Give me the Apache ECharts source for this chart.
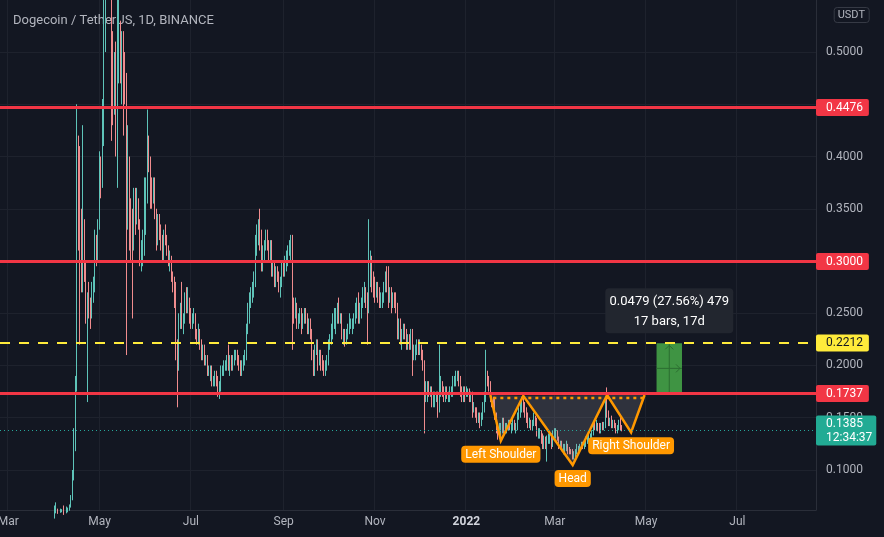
<!DOCTYPE html>
<html><head><meta charset="utf-8">
<script src="https://cdn.jsdelivr.net/npm/echarts@6/dist/echarts.min.js"></script>
<style>html,body{margin:0;padding:0;background:#131722;}#chart{width:884px;height:537px;}</style>
</head><body><div id="chart"></div>
<script>
// ---------- data ----------
const firstDay = '2021-02-24';
const lastDay = '2022-08-22';
// candles: [open, close, low, high]
const feb21 = [[.051,.0545,.048,.058],[.0545,.0505,.05,.0565],[.0505,.05,.0465,.052],[.05,.0505,.049,.053],[.0505,.049,.045,.051]];
const mar21 = [
[.049,.052,.0485,.053],[.052,.0505,.0495,.0525],[.0505,.051,.05,.0525],[.051,.0495,.048,.0525],[.0495,.05,.047,.0505],
[.05,.0505,.049,.051],[.0505,.054,.05,.055],[.054,.0555,.052,.0565],[.0555,.056,.0545,.058],[.056,.0555,.0545,.0575],
[.0555,.0555,.0535,.0565],[.0555,.056,.054,.057],[.056,.0595,.055,.0605],[.0595,.0585,.058,.061],[.0585,.058,.057,.0605],
[.058,.0575,.0565,.059],[.0575,.0585,.057,.0595],[.0585,.058,.0575,.06],[.058,.0585,.0575,.059],[.0585,.058,.0575,.0595],
[.058,.0565,.056,.0585],[.0565,.0545,.054,.0575],[.0545,.055,.0535,.056],[.055,.053,.052,.0575],[.053,.0525,.051,.054],
[.0525,.053,.052,.054],[.053,.0535,.0525,.0545],[.0535,.053,.052,.0545],[.053,.053,.052,.0545],[.053,.0535,.0525,.0545],
[.0535,.054,.0525,.056]];
const apr21 = [
[.054,.0605,.0535,.066],[.0605,.062,.0585,.069],[.062,.0585,.058,.063],[.0585,.06,.0575,.061],[.06,.061,.059,.063],
[.061,.061,.0595,.0625],[.061,.058,.057,.066],[.058,.059,.0575,.06],[.059,.061,.0585,.065],[.061,.062,.0595,.064],
[.062,.064,.061,.067],[.064,.072,.064,.076],[.072,.095,.071,.1],[.095,.12,.09,.14],[.12,.182,.118,.19],
[.182,.37,.175,.45],[.37,.345,.31,.42],[.345,.32,.22,.41],[.32,.3,.27,.35],[.3,.33,.27,.43],
[.33,.29,.28,.34],[.29,.25,.24,.3],[.25,.265,.165,.27],[.265,.255,.245,.28],[.255,.25,.235,.265],
[.25,.27,.245,.28],[.27,.275,.26,.285],[.275,.315,.27,.33],[.315,.305,.295,.325],[.305,.335,.3,.34]];
const may21 = [
[.335,.39,.33,.405],[.39,.38,.36,.4],[.38,.425,.37,.455],[.425,.53,.41,.57],[.53,.57,.5,.6],
[.57,.65,.55,.67],[.65,.69,.62,.71],[.69,.65,.6,.74],[.65,.49,.415,.66],[.49,.45,.43,.52],
[.45,.49,.44,.5],[.49,.42,.4,.51],[.42,.49,.37,.55],[.49,.5,.47,.59],[.5,.49,.47,.53],
[.49,.51,.45,.52],[.51,.47,.42,.52],[.47,.465,.45,.5],[.465,.36,.21,.48],[.36,.39,.33,.43],
[.39,.35,.31,.4],[.35,.33,.3,.36],[.33,.32,.245,.35],[.32,.36,.31,.37],[.36,.34,.325,.37],
[.34,.355,.335,.37],[.355,.335,.33,.36],[.335,.3,.295,.34],[.3,.305,.29,.32],[.305,.315,.295,.33],
[.315,.335,.305,.38]];
const jun21 = [
[.335,.36,.325,.38],[.36,.41,.355,.445],[.41,.395,.385,.42],[.395,.37,.35,.4],[.37,.36,.35,.38],
[.36,.37,.355,.38],[.37,.345,.34,.38],[.345,.33,.31,.35],[.33,.34,.315,.345],[.34,.325,.32,.345],
[.325,.32,.31,.335],[.32,.315,.3,.325],[.315,.325,.3,.33],[.325,.32,.315,.335],[.32,.31,.305,.325],
[.31,.3,.295,.315],[.3,.3,.29,.31],[.3,.285,.28,.305],[.285,.28,.27,.29],[.28,.275,.255,.285],
[.275,.215,.205,.28],[.215,.2,.16,.225],[.2,.245,.195,.25],[.245,.25,.235,.26],[.25,.245,.235,.28],
[.245,.245,.23,.25],[.245,.26,.24,.27],[.26,.255,.25,.275],[.255,.26,.25,.275],[.26,.25,.24,.265]];
const jul21 = [
[.25,.24,.235,.255],[.24,.245,.235,.25],[.245,.245,.24,.255],[.245,.23,.225,.25],[.23,.225,.22,.235],
[.225,.23,.22,.24],[.23,.22,.215,.235],[.22,.21,.205,.225],[.21,.215,.205,.22],[.215,.205,.2,.22],
[.205,.205,.2,.21],[.205,.195,.19,.21],[.195,.195,.19,.2],[.195,.195,.185,.2],[.195,.185,.18,.2],
[.185,.185,.18,.19],[.185,.19,.18,.195],[.19,.185,.18,.195],[.185,.175,.17,.19],[.175,.18,.168,.185],
[.18,.195,.175,.2],[.195,.195,.19,.2],[.195,.2,.19,.205],[.2,.2,.195,.205],[.2,.205,.195,.21],
[.205,.195,.195,.22],[.195,.205,.19,.21],[.205,.2,.195,.21],[.2,.205,.195,.21],[.205,.21,.2,.215],
[.21,.21,.205,.215]];
const aug21 = [
[.21,.205,.2,.215],[.205,.2,.195,.21],[.2,.195,.19,.205],[.195,.2,.19,.205],[.2,.205,.195,.21],
[.205,.21,.2,.215],[.21,.235,.205,.24],[.235,.25,.23,.26],[.25,.26,.24,.27],[.26,.265,.255,.275],
[.265,.275,.26,.28],[.275,.28,.265,.29],[.28,.315,.275,.325],[.315,.325,.305,.335],[.325,.33,.315,.34],
[.33,.32,.31,.35],[.32,.295,.29,.33],[.295,.31,.29,.315],[.31,.315,.3,.32],[.315,.325,.31,.33],
[.325,.315,.31,.33],[.315,.305,.3,.32],[.305,.315,.3,.32],[.315,.29,.285,.32],[.29,.295,.285,.3],
[.295,.28,.275,.3],[.28,.29,.275,.295],[.29,.285,.28,.295],[.285,.275,.27,.29],[.275,.28,.265,.285],
[.28,.295,.275,.3]];
const sep21 = [
[.295,.29,.285,.3],[.29,.3,.285,.305],[.3,.3,.29,.31],[.3,.31,.295,.315],[.31,.315,.305,.32],
[.315,.315,.3,.325],[.315,.255,.215,.325],[.255,.25,.24,.265],[.25,.255,.245,.265],[.255,.24,.235,.26],
[.24,.245,.235,.25],[.245,.25,.24,.255],[.25,.24,.23,.255],[.24,.245,.235,.25],[.245,.25,.24,.255],
[.25,.245,.24,.255],[.245,.235,.23,.25],[.235,.24,.23,.245],[.24,.23,.225,.245],[.23,.21,.205,.235],
[.21,.195,.19,.215],[.195,.215,.19,.22],[.215,.22,.21,.225],[.22,.205,.195,.225],[.205,.21,.2,.215],
[.21,.205,.195,.215],[.205,.2,.195,.21],[.2,.195,.19,.205],[.195,.2,.19,.205],[.2,.205,.195,.21]];
const oct21 = [
[.205,.22,.2,.225],[.22,.225,.215,.23],[.225,.23,.22,.24],[.23,.24,.225,.25],[.24,.245,.235,.255],
[.245,.245,.23,.255],[.245,.25,.24,.26],[.25,.245,.24,.265],[.245,.245,.24,.25],[.245,.23,.225,.25],
[.23,.23,.22,.235],[.23,.225,.218,.235],[.225,.23,.22,.235],[.23,.235,.225,.24],[.235,.24,.23,.25],
[.24,.24,.235,.245],[.24,.24,.23,.245],[.24,.245,.235,.25],[.245,.25,.24,.26],[.25,.255,.245,.265],
[.255,.245,.24,.27],[.245,.25,.24,.26],[.25,.26,.245,.265],[.26,.265,.255,.275],[.265,.27,.26,.28],
[.27,.265,.255,.275],[.265,.255,.22,.27],[.255,.29,.25,.34],[.29,.3,.275,.31],[.3,.28,.27,.305],
[.28,.275,.265,.29]];
const nov21 = [
[.275,.27,.26,.285],[.27,.275,.265,.28],[.275,.27,.26,.28],[.27,.26,.255,.275],[.26,.265,.255,.27],
[.265,.265,.255,.27],[.265,.275,.26,.28],[.275,.285,.27,.29],[.285,.28,.27,.295],[.28,.265,.255,.295],
[.265,.27,.26,.275],[.27,.26,.25,.275],[.26,.265,.255,.27],[.265,.26,.255,.27],[.26,.255,.25,.27],
[.255,.235,.225,.26],[.235,.24,.225,.245],[.24,.225,.22,.245],[.225,.23,.215,.235],[.23,.235,.225,.24],
[.235,.23,.225,.24],[.23,.22,.215,.235],[.22,.225,.215,.23],[.225,.22,.215,.23],[.22,.23,.215,.235],
[.23,.21,.19,.235],[.21,.215,.205,.22],[.215,.215,.205,.22],[.215,.22,.21,.225],[.22,.215,.21,.225]];
const dec21 = [
[.215,.215,.21,.225],[.215,.21,.205,.22],[.21,.2,.195,.215],[.2,.175,.135,.205],[.175,.175,.165,.185],
[.175,.18,.165,.185],[.18,.175,.17,.185],[.175,.175,.17,.18],[.175,.165,.16,.18],[.165,.165,.16,.175],
[.165,.17,.16,.175],[.17,.17,.165,.175],[.17,.16,.15,.175],[.16,.18,.155,.22],[.18,.18,.17,.19],
[.18,.175,.17,.185],[.175,.17,.165,.18],[.17,.175,.165,.18],[.175,.17,.168,.18],[.17,.17,.165,.175],
[.17,.175,.165,.18],[.175,.175,.17,.18],[.175,.185,.17,.19],[.185,.185,.18,.19],[.185,.19,.18,.195],
[.19,.19,.185,.195],[.19,.185,.18,.195],[.185,.175,.17,.19],[.175,.17,.165,.18],[.17,.175,.165,.18],
[.175,.17,.165,.18]];
const jan22 = [
[.17,.175,.17,.18],[.175,.175,.17,.178],[.175,.17,.165,.178],[.17,.17,.165,.175],[.17,.16,.15,.175],
[.16,.16,.155,.165],[.16,.155,.15,.16],[.155,.15,.145,.16],[.15,.15,.145,.155],[.15,.145,.14,.155],
[.145,.15,.142,.155],[.15,.16,.148,.165],[.16,.17,.155,.175],[.17,.19,.165,.215],[.19,.185,.18,.195],
[.185,.18,.175,.19],[.18,.17,.165,.185],[.17,.165,.16,.17],[.165,.16,.155,.17],[.16,.15,.148,.17],
[.15,.14,.135,.155],[.14,.135,.129,.145],[.135,.14,.13,.145],[.14,.14,.13,.145],[.14,.145,.135,.15],
[.145,.14,.135,.15],[.14,.14,.135,.145],[.14,.14,.135,.145],[.14,.145,.138,.148],[.145,.14,.138,.148],
[.14,.14,.135,.145]];
const feb22 = [
[.14,.145,.138,.15],[.145,.14,.138,.148],[.14,.14,.135,.145],[.14,.15,.138,.155],[.15,.155,.148,.16],
[.155,.16,.15,.165],[.16,.165,.155,.17],[.165,.16,.155,.17],[.16,.155,.15,.165],[.155,.15,.145,.16],
[.15,.145,.14,.155],[.145,.145,.14,.15],[.145,.14,.138,.148],[.14,.145,.138,.148],[.145,.15,.142,.155],
[.15,.145,.142,.152],[.145,.135,.132,.15],[.135,.135,.13,.14],[.135,.135,.13,.14],[.135,.13,.125,.138],
[.13,.125,.12,.135],[.125,.13,.12,.133],[.13,.125,.12,.132],[.125,.13,.108,.133],[.13,.13,.125,.135],
[.13,.13,.125,.135],[.13,.125,.12,.135],[.125,.135,.122,.138]];
const mar22 = [
[.135,.135,.13,.14],[.135,.135,.13,.14],[.135,.13,.128,.138],[.13,.125,.12,.132],[.125,.125,.12,.128],
[.125,.12,.118,.128],[.12,.12,.115,.125],[.12,.12,.115,.125],[.12,.125,.118,.128],[.125,.12,.115,.125],
[.12,.118,.115,.122],[.118,.117,.115,.12],[.117,.113,.11,.12],[.113,.115,.11,.118],[.115,.117,.112,.12],
[.117,.12,.115,.125],[.12,.12,.118,.123],[.12,.122,.117,.125],[.122,.125,.12,.127],[.125,.122,.12,.127],
[.122,.123,.12,.126],[.123,.128,.122,.132],[.128,.13,.125,.133],[.13,.13,.127,.135],[.13,.132,.128,.135],
[.132,.135,.13,.138],[.135,.142,.133,.145],[.142,.14,.138,.148],[.14,.142,.138,.148],[.142,.14,.137,.145],
[.14,.138,.135,.145]];
const apr22 = [
[.138,.142,.135,.145],[.142,.14,.138,.146],[.14,.143,.138,.146],[.143,.16,.14,.17],[.16,.155,.15,.179],
[.155,.145,.142,.157],[.145,.148,.142,.15],[.148,.142,.14,.152],[.142,.145,.14,.148],[.145,.142,.14,.148],
[.142,.138,.135,.145],[.138,.14,.135,.143],[.14,.145,.138,.148],[.145,.14,.138,.153],[.14,.1385,.137,.143]];

const gridTicks = [0.10,0.15,0.20,0.25,0.30,0.35,0.40,0.45,0.50];
const labelTicks = [0.10,0.15,0.20,0.25,0.35,0.40,0.50];
const redLevels = [0.4476,0.3000,0.1737];
const targetLevel = 0.2212;
const lastPrice = 0.1385;
const countdown = '12:34:37';

const patternDates = ['2022-01-17','2022-01-24','2022-02-08','2022-03-13','2022-04-05','2022-04-21','2022-04-30'];
const patternPrices = [0.1718,0.1280,0.1710,0.1048,0.1718,0.1360,0.1718];
const patternLabels = ['','Left Shoulder','','Head','','Right Shoulder',''];
const necklineDates = ['2022-01-19','2022-04-30'];
const necklinePrice = 0.1690;

const measureDates = ['2022-05-08','2022-05-25'];
const measurePrices = [0.1733,0.2212];
const measureText = ['0.0479 (27.56%) 479','17 bars, 17d'];

// ---------- build ----------
const categories = [];
for (let t = Date.parse(firstDay); t <= Date.parse(lastDay); t += 86400000) {
  categories.push(new Date(t).toISOString().slice(0,10));
}
const ohlc = [].concat(feb21,mar21,apr21,may21,jun21,jul21,aug21,sep21,oct21,nov21,dec21,jan22,feb22,mar22,apr22);
const idx = d => categories.indexOf(d);
const monthNames = ['Jan','Feb','Mar','Apr','May','Jun','Jul','Aug','Sep','Oct','Nov','Dec'];
const isLabelDay = v => { const m = +v.slice(5,7), d = +v.slice(8,10); return d === 1 && m % 2 === 1; };
const fmtDate = v => { const m = +v.slice(5,7); return m === 1 ? '{b|' + v.slice(0,4) + '}' : monthNames[m-1]; };

const FONT = 'Roboto, "Noto Sans", sans-serif';
const ORANGE = '#ff9800';

// level lines: value, line colour, width, dash, label bg, label fg, label text
const levels = redLevels.map(v => ({v, c:'#f23645', w:3, dash:null, bg:'#f23645', fg:'#ffffff', t:v.toFixed(4)}));
levels.push({v:targetLevel, c:'#ffeb3b', w:2, dash:[10,9], bg:'#ffeb3b', fg:'#131722', t:targetLevel.toFixed(4)});
levels.unshift({v:lastPrice, c:'#26a69a', w:1, dash:[1,3], bg:'#22ab94', fg:'#ffffff', t:lastPrice.toFixed(4) + '\n' + countdown});

const chart = echarts.init(document.getElementById('chart'), null, {renderer:'canvas'});
chart.setOption({
  backgroundColor:'#131722',
  animation:false,
  textStyle:{fontFamily:FONT},
  title:[
    {text:'Dogecoin / TetherUS, 1D, BINANCE', left:8, top:9, z:1,
     textStyle:{color:'#b2b5be', fontSize:13, fontWeight:'normal', fontFamily:FONT}},
    {text:'USDT', right:15, top:7, z:1, borderColor:'#363a45', borderWidth:1, borderRadius:3, padding:[3,4,2,4],
     textStyle:{color:'#b2b5be', fontSize:11, fontWeight:'normal', fontFamily:FONT}}
  ],
  grid:{left:0, right:68, top:0, bottom:27, containLabel:false, outerBoundsMode:'none'},
  xAxis:{type:'category', data:categories, boundaryGap:true,
    axisLine:{show:true, lineStyle:{color:'#2a2e39'}}, axisTick:{show:false},
    axisLabel:{interval:(i,v)=>isLabelDay(v), formatter:fmtDate, color:'#b2b5be', fontSize:12, margin:6, fontFamily:FONT,
      rich:{b:{fontWeight:'bold', color:'#d1d4dc', fontSize:12, fontFamily:FONT}}},
    splitLine:{show:true, interval:(i,v)=>isLabelDay(v), lineStyle:{color:'#1e222d', width:1}}},
  yAxis:{type:'value', position:'right', min:0.0617, max:0.5498,
    axisLine:{show:true, lineStyle:{color:'#2a2e39'}},
    axisTick:{show:false, customValues:gridTicks},
    axisLabel:{customValues:labelTicks, formatter:v=>v.toFixed(4), color:'#b2b5be', fontSize:12, margin:10, fontFamily:FONT},
    splitLine:{show:true, lineStyle:{color:'#1e222d', width:1}}},
  series:[
    {type:'candlestick', data:ohlc, barWidth:1, clip:true, z:2,
     itemStyle:{color:'#5ec4b9', color0:'#f08c8e', borderColor:'#5ec4b9', borderColor0:'#f08c8e', borderWidth:1}},
    {type:'custom', z:4, silent:true, data:[[idx(patternDates[0]), patternPrices[0]]],
     renderItem:(params, api) => {
       const pts = patternDates.map((d,i) => api.coord([idx(d), patternPrices[i]]));
       const nl = necklineDates.map(d => api.coord([idx(d), necklinePrice]));
       const ch = [];
       for (let k = 0; k < 3; k++) {
         ch.push({type:'polygon', shape:{points:[pts[2*k], pts[2*k+1], pts[2*k+2]]}, style:{fill:'rgba(149,152,161,0.22)'}});
       }
       ch.push({type:'line', shape:{x1:nl[0][0], y1:nl[0][1], x2:nl[1][0], y2:nl[1][1]},
                style:{stroke:ORANGE, lineWidth:2.5, lineDash:[3,4]}});
       ch.push({type:'polyline', shape:{points:pts}, style:{stroke:ORANGE, lineWidth:2.5, fill:null}});
       patternLabels.forEach((t,i) => {
         if (!t) return;
         ch.push({type:'text', x:pts[i][0], y:pts[i][1] + 5,
           style:{text:t, fill:'#ffffff', fontSize:12, fontFamily:FONT, backgroundColor:ORANGE,
                  padding:[3,4,2,4], borderRadius:4, align:'center', verticalAlign:'top'}});
       });
       return {type:'group', children:ch};
     }
    },
    {type:'custom', z:5, silent:true, data:[[idx(measureDates[0]), measurePrices[0]]],
     renderItem:(params, api) => {
       const a = api.coord([idx(measureDates[0]), measurePrices[1]]);
       const b = api.coord([idx(measureDates[1]), measurePrices[0]]);
       const mx = (a[0] + b[0]) / 2, my = (a[1] + b[1]) / 2;
       const dark = '#2c6e31';
       return {type:'group', children:[
         {type:'rect', shape:{x:a[0], y:a[1], width:b[0]-a[0], height:b[1]-a[1]}, style:{fill:'#43a047', opacity:0.92}},
         {type:'line', shape:{x1:mx, y1:a[1], x2:mx, y2:b[1]}, style:{stroke:dark, lineWidth:1}},
         {type:'line', shape:{x1:a[0], y1:my, x2:b[0], y2:my}, style:{stroke:dark, lineWidth:1}},
         {type:'polyline', shape:{points:[[mx-4,a[1]+6],[mx,a[1]+2],[mx+4,a[1]+6]]}, style:{stroke:dark, lineWidth:1, fill:null}},
         {type:'polyline', shape:{points:[[b[0]-6,my-4],[b[0]-2,my],[b[0]-6,my+4]]}, style:{stroke:dark, lineWidth:1, fill:null}},
         {type:'rect', shape:{x:mx-64, y:a[1]-55, width:128, height:45, r:4}, style:{fill:'#22262f'}},
         {type:'text', x:mx, y:a[1]-42, style:{text:measureText[0], fill:'#ffffff', fontSize:13, fontFamily:FONT, align:'center', verticalAlign:'middle'}},
         {type:'text', x:mx, y:a[1]-22, style:{text:measureText[1], fill:'#ffffff', fontSize:13, fontFamily:FONT, align:'center', verticalAlign:'middle'}}
       ]};
     }
    },
    {type:'custom', z:6, silent:true, clip:false, data:levels.map(l => [0, l.v]),
     renderItem:(params, api) => {
       const l = levels[params.dataIndex];
       const cs = params.coordSys;
       const y = Math.round(api.coord([0, l.v])[1]) + (l.w % 2 ? 0.5 : 0);
       const x2 = cs.x + cs.width;
       const two = l.t.indexOf('\n') >= 0;
       return {type:'group', children:[
         {type:'line', shape:{x1:cs.x, y1:y, x2:x2, y2:y}, style:{stroke:l.c, lineWidth:l.w, lineDash:l.dash}},
         {type:'text', x:x2, y:y, style:{text:l.t, fill:l.fg, backgroundColor:l.bg, fontSize:12, fontFamily:FONT,
            lineHeight:two ? 14 : 13, padding: two ? [1,4,1,10] : [2,6,2,10], borderRadius:2, align:'left', verticalAlign:'middle'}}
       ]};
     }
    }
  ]
});
</script>
</body></html>
